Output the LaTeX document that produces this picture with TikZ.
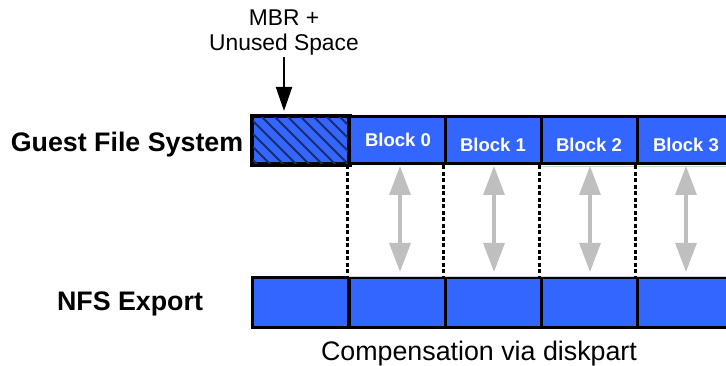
\documentclass[tikz,border=0pt]{standalone}
\usepackage{fontspec}
\setmainfont{Liberation Sans}
\usetikzlibrary{arrows.meta}
\definecolor{cellblue}{HTML}{3366FF}
\definecolor{hatchblue}{HTML}{1A2B70}
\definecolor{arrowgray}{HTML}{BFBFBF}
\tikzset{
  cell/.style={draw=black, line width=3pt, fill=cellblue, minimum width=96pt, inner sep=0pt, anchor=center},
  toprow/.style={cell, minimum height=47pt},
  botrow/.style={cell, minimum height=49pt},
  blocklabel/.style={text=white, font=\bfseries\fontsize{18.5}{20}\selectfont, anchor=base, inner sep=0pt},
  bigbold/.style={font=\bfseries\fontsize{26.8}{30}\selectfont, anchor=base, inner sep=0pt},
  plain/.style={font=\fontsize{26.8}{30}\selectfont, anchor=base, inner sep=0pt},
  mbr/.style={font=\fontsize{22.8}{26}\selectfont, anchor=base, inner sep=0pt},
  sep/.style={line width=3.2pt, dash pattern=on 4pt off 2.5pt},
  map/.style={arrowgray, line width=3.2pt, {Triangle[width=21pt,length=29pt]}-{Triangle[width=21pt,length=29pt]}},
  faint/.style={arrowgray!70, line width=0.8pt},
}
\begin{document}
\begin{tikzpicture}[x=1pt,y=-1pt]
\useasboundingbox (0,0) rectangle (726,366);
% top row
\node[toprow] (h0) at (300.5,140.5) {};
\begin{scope}
  \clip (h0.south west) rectangle (h0.north east);
  \foreach \i in {-60,-47,...,110}
    \draw[hatchblue, line width=1.8pt] (252+\i,112) -- (252+\i+60,172);
\end{scope}
\draw[line width=3pt] (h0.south west) rectangle (h0.north east);
\node[toprow] (b0) at (397,140.5) {};
\node[toprow] (b1) at (493,140.5) {};
\node[toprow] (b2) at (589,140.5) {};
\node[toprow] (b3) at (685,140.5) {};
\node[blocklabel] (l0) at (398,146.5) {Block 0};
\node[blocklabel] (l1) at (493,151.5) {Block 1};
\node[blocklabel] (l2) at (589,151.5) {Block 2};
\node[blocklabel] (l3) at (686,151.5) {Block 3};
% bottom row
\node[botrow] (n0) at (300.5,302.5) {};
\node[botrow] (n1) at (397,302.5) {};
\node[botrow] (n2) at (493,302.5) {};
\node[botrow] (n3) at (589,302.5) {};
\node[botrow] (n4) at (685,302.5) {};
% faint guide lines
\coordinate (ft0) at (541,166.5);
\coordinate (ft1) at (726,166.5);
\coordinate (fb0) at (349,276.5);
\coordinate (fb1) at (726,276.5);
\draw[faint] (ft0) -- (ft1);
\draw[faint] (fb0) -- (fb1);
% dotted separators
\draw[sep] (b0.south west) -- (n1.north west);
\draw[sep] (b1.south west) -- (n2.north west);
\draw[sep] (b2.south west) -- (n3.north west);
\draw[sep] (b3.south west) -- (n4.north west);
% mapping arrows
\coordinate (a0t) at (400,166); \coordinate (a0b) at (400,272);
\coordinate (a1t) at (494,166); \coordinate (a1b) at (494,272);
\coordinate (a2t) at (590,166); \coordinate (a2b) at (590,272);
\coordinate (a3t) at (686,166); \coordinate (a3b) at (686,272);
\draw[map] (a0t) -- (a0b);
\draw[map] (a1t) -- (a1b);
\draw[map] (a2t) -- (a2b);
\draw[map] (a3t) -- (a3b);
% labels
\node[bigbold] (gfs) at (127,152) {Guest File System};
\node[bigbold] (nfs) at (130,310) {NFS Export};
\node[plain] (comp) at (479,360) {Compensation via diskpart};
\node[mbr] (mbr1) at (284,26) {MBR +};
\node[mbr] (mbr2) at (284,51) {Unused Space};
\coordinate (mbrtip) at (284,111);
\draw[line width=2pt, -{Triangle[width=16pt,length=24pt]}] (284,57) -- (mbrtip);
\end{tikzpicture}
\end{document}
